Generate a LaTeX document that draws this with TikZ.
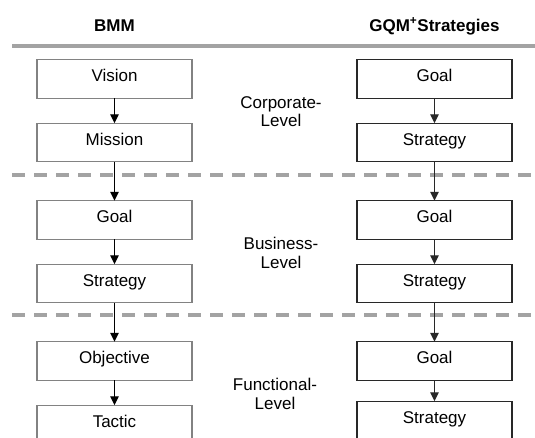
\documentclass[tikz,border=0pt]{standalone}
\usepackage{fontspec}
\setmainfont{Liberation Sans}
\usetikzlibrary{arrows.meta, calc, positioning}
\definecolor{rulegray}{RGB}{163,163,163}
\definecolor{bmmgray}{RGB}{130,130,130}
\definecolor{gqmdark}{RGB}{40,40,40}

\begin{document}
\begin{tikzpicture}[x=1pt, y=1pt, >={Triangle[length=9pt, width=8.5pt]},
  font=\fontsize{17}{18.5}\selectfont, align=center,
  box/.style={draw, minimum width=155pt, minimum height=38.5pt, inner sep=0pt,
    outer sep=0pt, text height=12.2pt, text depth=6.6pt},
  bmm/.style={box, draw=bmmgray, line width=1.2pt},
  gqm/.style={box, draw=gqmdark, line width=1.4pt},
  head/.style={font=\fontsize{17}{18.5}\selectfont\bfseries, inner sep=0pt,
    outer sep=0pt, text height=12.2pt, text depth=0pt},
  rule/.style={rulegray, line width=3.5pt},
  levelrule/.style={rule, dash pattern=on 12.5pt off 9.5pt},
  link/.style={->, line width=1.4pt}]
  \useasboundingbox (0,0) rectangle (535,-437);

  % separators
  \draw[rule] (12,-46) -- (535,-46);
  \draw[levelrule] (12,-175) -- (535,-175);
  \draw[levelrule] (12,-315) -- (535,-315);

  % BMM column
  \node[bmm] (vision) at (114.5,-79) {Vision};
  \node[bmm, below=25pt of vision] (mission) {Mission};
  \node[bmm, below=39pt of mission] (goal) {Goal};
  \node[bmm, below=25pt of goal] (strategy) {Strategy};
  \node[bmm, below=39pt of strategy] (objective) {Objective};
  \node[bmm, below=25pt of objective] (tactic) {Tactic};

  % GQM+Strategies column
  \node[gqm, right=165pt of vision] (cgoal) {Goal};
  \node[gqm, below=25pt of cgoal] (cstrat) {Strategy};
  \node[gqm, below=39pt of cstrat] (bgoal) {Goal};
  \node[gqm, below=25pt of bgoal] (bstrat) {Strategy};
  \node[gqm, below=39pt of bstrat] (fgoal) {Goal};
  \node[gqm, below=21pt of fgoal] (fstrat) {Strategy};

  \node[head, above=28.75pt of vision] (bmmhead) {BMM};
  \node[head, above=28.75pt of cgoal] (gqmhead) {GQM\textsuperscript{+}Strategies};

  % levels
  \node (corplvl) at ($(vision.south)!0.5!(mission.north) + (166.5,-1)$) {Corporate-\\Level};
  \node (buslvl) at ($(goal.south)!0.5!(strategy.north) + (166.5,-1)$) {Business-\\Level};
  \node (funlvl) at ($(objective.south)!0.5!(tactic.north) + (160.5,-1)$) {Functional-\\Level};

  \draw[link] (vision) -- (mission);
  \draw[link] (mission) -- (goal);
  \draw[link] (goal) -- (strategy);
  \draw[link] (strategy) -- (objective);
  \draw[link] (objective) -- (tactic);

  \draw[link, gqmdark] (cgoal) -- (cstrat);
  \draw[link, gqmdark] (cstrat) -- (bgoal);
  \draw[link, gqmdark] (bgoal) -- (bstrat);
  \draw[link, gqmdark] (bstrat) -- (fgoal);
  \draw[link, gqmdark] (fgoal) -- (fstrat);
\end{tikzpicture}
\end{document}
